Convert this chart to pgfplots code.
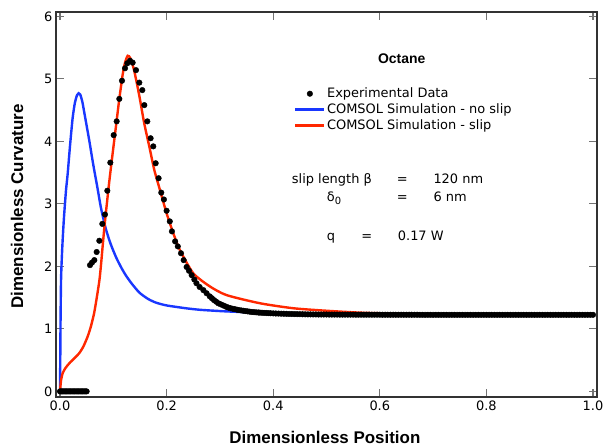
\documentclass[border=0pt]{standalone}
\usepackage{pgfplots}
\pgfplotsset{compat=1.18}
\usepackage{fontspec}
\setmainfont{DejaVu Sans}
\newfontfamily\labfont{Liberation Sans}
\definecolor{myblue}{RGB}{25,55,255}
\definecolor{myred}{RGB}{255,40,0}
\pgfplotsset{
  lineleg/.style={legend image code/.code={\draw[##1] (0bp,0bp) -- (29bp,0bp);}},
  dotleg/.style={legend image code/.code={\draw[##1] plot coordinates {(14.5bp,0bp)};}},
}
\begin{document}
\begin{tikzpicture}
\begin{axis}[
  scale only axis,
  width=541bp, height=385bp,
  xmin=-0.0075, xmax=1.0075,
  ymin=-0.09, ymax=6.07,
  xtick={0,0.2,0.4,0.6,0.8,1.0},
  ytick={0,1,2,3,4,5,6},
  xticklabels={0.0,0.2,0.4,0.6,0.8,1.0},
  yticklabels={0,1,2,3,4,5,6},
  tick align=inside,
  major tick length=8bp,
  minor tick num=0,
  tick style={black!55, line width=1.1bp},
  axis line style={black!80, line width=1.2bp},
  ticklabel style={font=\fontsize{13}{15}\selectfont},
  xlabel={\labfont\bfseries Dimensionless Position},
  ylabel={\labfont\bfseries Dimensionless Curvature},
  label style={font=\fontsize{17}{20}\selectfont},
  xlabel style={at={(axis description cs:0.497,-0.104)}, anchor=center},
  ylabel style={at={(axis description cs:-0.072,0.495)}, anchor=center},
  legend style={at={(axis cs:0.439,4.88)}, anchor=north west, draw=none, fill=none,
    inner sep=0pt, row sep=1.5bp, font=\fontsize{13}{15}\selectfont,
    nodes={inner sep=1.5bp}},
  legend cell align=left,
  clip=true,
]
\addplot[only marks, mark=*, mark size=2.8bp, black, dotleg] coordinates {
(0,0) (0.0025,0) (0.005,0) (0.0075,0) (0.01,0) (0.0125,0) (0.015,0) (0.0175,0) (0.02,0) (0.0225,0)
(0.025,0) (0.0275,0) (0.03,0) (0.0325,0) (0.035,0) (0.0375,0) (0.04,0) (0.0425,0) (0.045,0) (0.0475,0) (0.05,0)
(0.0563,2.02) (0.0600,2.06) (0.0644,2.10) (0.0688,2.23) (0.0738,2.41) (0.0794,2.68) (0.0844,2.83)
(0.0888,3.21) (0.0944,3.66) (0.1007,4.10) (0.1063,4.32) (0.1113,4.68) (0.1163,4.97) (0.122,5.17)
(0.1263,5.25) (0.1313,5.29) (0.1363,5.26) (0.1426,5.14) (0.1488,4.94) (0.1544,4.82) (0.1582,4.58)
(0.1638,4.32) (0.170,4.05) (0.175,3.92) (0.1795,3.65) (0.185,3.41) (0.190,3.18) (0.195,3.07)
(0.200,2.89) (0.206,2.72) (0.210,2.56) (0.216,2.40) (0.221,2.32) (0.227,2.21) (0.232,2.10)
(0.2376,1.99) (0.242,1.93) (0.247,1.86) (0.252,1.79) (0.256,1.73) (0.262,1.67) (0.269,1.62)
(0.275,1.57) (0.281,1.52) (0.285,1.49) (0.289,1.46) (0.293,1.435) (0.297,1.41) (0.301,1.395)
(0.305,1.38) (0.309,1.365) (0.3126,1.35) (0.316,1.34) (0.32,1.33) (0.324,1.322) (0.328,1.315)
(0.332,1.307) (0.336,1.30) (0.340,1.295) (0.344,1.29) (0.348,1.285) (0.352,1.28) (0.356,1.275)
(0.36,1.27) (0.364,1.267) (0.368,1.265) (0.372,1.262) (0.375,1.26) (0.379,1.258) (0.383,1.256)
(0.387,1.254) (0.391,1.252) (0.395,1.250) (0.40,1.248) (0.405,1.246) (0.41,1.245) (0.415,1.243)
(0.42,1.242) (0.425,1.240) (0.43,1.239) (0.435,1.238) (0.44,1.237) (0.445,1.236) (0.45,1.235)
(0.455,1.234) (0.46,1.233) (0.465,1.232) (0.47,1.232) (0.475,1.231) (0.48,1.231) (0.485,1.230)
(0.49,1.230) (0.495,1.230) (0.50,1.230) (0.505,1.229) (0.51,1.229) (0.515,1.229) (0.52,1.229)
(0.525,1.228) (0.53,1.228) (0.535,1.228) (0.54,1.228) (0.545,1.228) (0.55,1.228) (0.555,1.227)
(0.56,1.227) (0.565,1.227) (0.57,1.227) (0.575,1.227) (0.58,1.227) (0.585,1.227) (0.59,1.227)
(0.595,1.227) (0.60,1.227) (0.605,1.226) (0.61,1.226) (0.615,1.226) (0.62,1.226) (0.625,1.226)
(0.63,1.226) (0.635,1.226) (0.64,1.226) (0.645,1.226) (0.65,1.226) (0.655,1.226) (0.66,1.226)
(0.665,1.226) (0.67,1.226) (0.675,1.225) (0.68,1.225) (0.685,1.225) (0.69,1.225) (0.695,1.225)
(0.70,1.225) (0.705,1.225) (0.71,1.225) (0.715,1.225) (0.72,1.225) (0.725,1.225) (0.73,1.225)
(0.735,1.225) (0.74,1.225) (0.745,1.225) (0.75,1.225) (0.755,1.225) (0.76,1.225) (0.765,1.225)
(0.77,1.225) (0.775,1.225) (0.78,1.225) (0.785,1.225) (0.79,1.225) (0.795,1.225) (0.80,1.225)
(0.805,1.225) (0.81,1.225) (0.815,1.225) (0.82,1.225) (0.825,1.225) (0.83,1.225) (0.835,1.225)
(0.84,1.225) (0.845,1.225) (0.85,1.225) (0.855,1.225) (0.86,1.225) (0.865,1.225) (0.87,1.225)
(0.875,1.225) (0.88,1.225) (0.885,1.225) (0.89,1.225) (0.895,1.225) (0.90,1.225) (0.905,1.225)
(0.91,1.225) (0.915,1.225) (0.92,1.225) (0.925,1.225) (0.93,1.225) (0.935,1.225) (0.94,1.225)
(0.945,1.225) (0.95,1.225) (0.955,1.225) (0.96,1.225) (0.965,1.225) (0.97,1.225) (0.975,1.225)
(0.98,1.225) (0.985,1.225) (0.99,1.225) (0.995,1.225) (1.00,1.225)
};
\addlegendentry{Experimental Data}
\addplot[myblue, line width=2.4bp, smooth, tension=0.4, lineleg] coordinates {
(0,0) (0.0005,0.5) (0.001,1.1) (0.002,1.8) (0.004,2.25) (0.006,2.58) (0.008,2.85) (0.0113,3.22)
(0.0144,3.48) (0.019,3.95) (0.0238,4.38) (0.028,4.62) (0.032,4.74) (0.035,4.77) (0.038,4.75)
(0.042,4.63) (0.0456,4.46) (0.05,4.25) (0.055,4.01) (0.06,3.75) (0.064,3.55) (0.07,3.27)
(0.077,2.93) (0.086,2.6) (0.095,2.36) (0.105,2.15) (0.115,1.98) (0.124,1.85) (0.135,1.72)
(0.149,1.58) (0.165,1.48) (0.18,1.42) (0.2,1.375) (0.236,1.33) (0.263,1.305) (0.3,1.285)
(0.325,1.275) (0.4,1.25) (0.5,1.235) (0.6,1.23) (0.7,1.227) (0.8,1.225) (1.0,1.225)
};
\addlegendentry{COMSOL Simulation - no slip}
\addplot[myred, line width=2.4bp, smooth, tension=0.4, lineleg] coordinates {
(0,0) (0.002,0.18) (0.005,0.29) (0.01,0.37) (0.0175,0.45) (0.027,0.53) (0.036,0.61) (0.044,0.72)
(0.052,0.88) (0.058,1.04) (0.064,1.25) (0.069,1.5) (0.074,1.78) (0.077,2.03) (0.08,2.32)
(0.083,2.6) (0.086,2.85) (0.0925,3.36) (0.0988,3.81) (0.105,4.24) (0.111,4.66) (0.1176,5.07)
(0.122,5.26) (0.127,5.37) (0.132,5.33) (0.139,5.14) (0.149,4.72) (0.158,4.29) (0.168,3.9)
(0.177,3.54) (0.1876,3.22) (0.2,2.85) (0.2126,2.53) (0.225,2.26) (0.25,1.89) (0.281,1.68)
(0.3126,1.54) (0.375,1.41) (0.4377,1.33) (0.5,1.29) (0.563,1.26) (0.65,1.24) (0.75,1.23)
(0.85,1.226) (1.0,1.224)
};
\addlegendentry{COMSOL Simulation - slip}
\end{axis}
\begin{scope}[every node/.style={inner sep=0pt, font=\fontsize{13}{15}\selectfont}]
\node[anchor=base, font=\labfont\bfseries\fontsize{14}{16}\selectfont] at (345.7bp,333.7bp) {Octane};
\node[anchor=base west] at (235.7bp,213bp) {slip length β};
\node[anchor=base] at (346.3bp,213bp) {=};
\node[anchor=base west] at (377.3bp,213bp) {120 nm};
\node[anchor=base west] at (270.7bp,195.3bp) {δ\raisebox{-0.35ex}{\fontsize{10}{10}\selectfont 0}};
\node[anchor=base] at (346.3bp,195.3bp) {=};
\node[anchor=base west] at (377.3bp,195.3bp) {6 nm};
\node[anchor=base west] at (270.7bp,156bp) {q};
\node[anchor=base] at (310.7bp,156bp) {=};
\node[anchor=base west] at (341.7bp,156bp) {0.17 W};
\end{scope}
\pgfresetboundingbox
\useasboundingbox (-56bp,-51bp) rectangle (548bp,397bp);
\end{tikzpicture}
\end{document}
